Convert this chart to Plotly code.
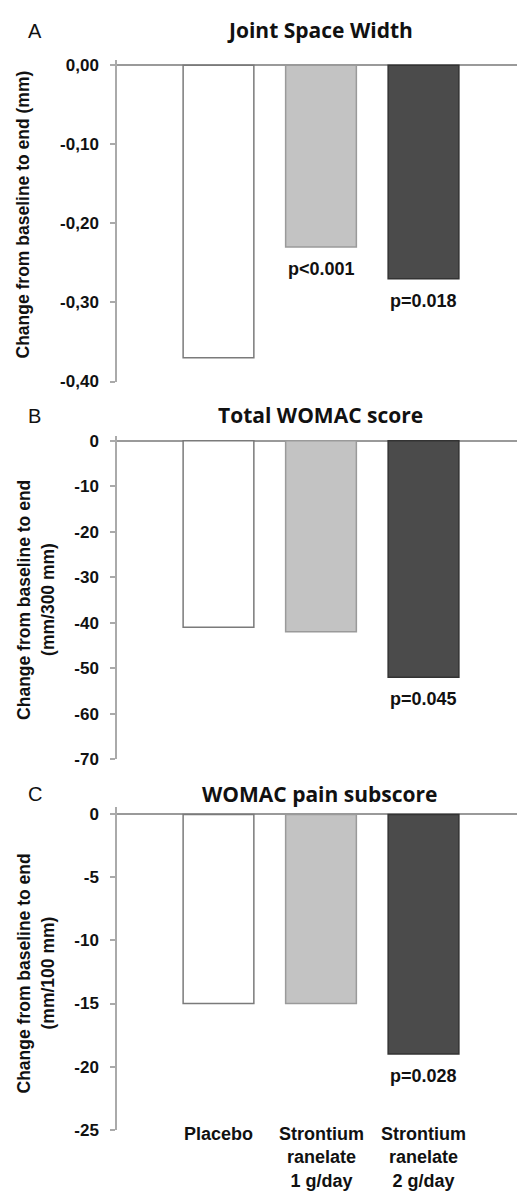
import plotly.graph_objects as go

W, H = 517, 1191

categories = ["Placebo", "Strontium ranelate 1 g/day", "Strontium ranelate 2 g/day"]
category_labels = ["Placebo", "Strontium<br>ranelate<br>1 g/day", "Strontium<br>ranelate<br>2 g/day"]

panel_letters = ["A", "B", "C"]
panel_titles = ["Joint Space Width", "Total WOMAC score", "WOMAC pain subscore"]

jsw_values = [-0.37, -0.23, -0.27]
jsw_pvalues = ["", "p<0.001", "p=0.018"]
jsw_tickvals = [0, -0.1, -0.2, -0.3, -0.4]
jsw_ticktext = ["0,00", "-0,10", "-0,20", "-0,30", "-0,40"]

womac_values = [-41, -42, -52]
womac_pvalues = ["", "", "p=0.045"]
womac_tickvals = [0, -10, -20, -30, -40, -50, -60, -70]
womac_ticktext = ["0", "-10", "-20", "-30", "-40", "-50", "-60", "-70"]

pain_values = [-15, -15, -19]
pain_pvalues = ["", "", "p=0.028"]
pain_tickvals = [0, -5, -10, -15, -20, -25]
pain_ticktext = ["0", "-5", "-10", "-15", "-20", "-25"]

ytitles = [["Change from baseline to end (mm)"],
           ["Change from baseline to end", "(mm/300 mm)"],
           ["Change from baseline to end", "(mm/100 mm)"]]

panels = [
    dict(values=jsw_values, p=jsw_pvalues, tv=jsw_tickvals, tt=jsw_ticktext,
         rng=[-0.40, 0.00625], top=57, bot=382, title_y=26, letter_y=27, ytitle_y=213),
    dict(values=womac_values, p=womac_pvalues, tv=womac_tickvals, tt=womac_ticktext,
         rng=[-70, 1.1], top=437, bot=764, title_y=416, letter_y=417, ytitle_y=603),
    dict(values=pain_values, p=pain_pvalues, tv=pain_tickvals, tt=pain_ticktext,
         rng=[-25, 0.55], top=813, bot=1139, title_y=799, letter_y=799, ytitle_y=981),
]

fill_colors = ["#ffffff", "#c3c3c3", "#4b4b4b"]
line_colors = ["#7a7a7a", "#9a9a9a", "#333333"]

def py(v):
    return 1 - v / H

def px(v):
    return v / W

fig = go.Figure()
annotations = []
bold_font = dict(family="Liberation Sans, Arial, sans-serif", size=18, color="#111111", weight="bold")
tick_font = dict(family="Liberation Sans, Arial, sans-serif", size=17, color="#111111", weight="bold")

for i, p in enumerate(panels):
    n = "" if i == 0 else str(i + 1)
    xa, ya = "x" + n, "y" + n
    fig.add_trace(go.Bar(
        x=categories, y=p["values"], xaxis=xa, yaxis=ya,
        width=0.69,
        marker=dict(color=fill_colors, line=dict(color=line_colors, width=1.5)),
        showlegend=False, hoverinfo="skip",
    ))
    fig.layout["xaxis" + n] = dict(
        domain=[px(117), 1.0], anchor=ya, type="category",
        categoryorder="array", categoryarray=categories,
        range=[-0.99, 2.912], showline=False, showticklabels=False,
        ticks="", showgrid=False, zeroline=False,
    )
    fig.layout["yaxis" + n] = dict(
        domain=[py(p["bot"]), py(p["top"])], anchor=xa, range=p["rng"],
        tickvals=p["tv"], ticktext=p["tt"], ticks="outside", ticklen=5,
        tickcolor="#aaaaaa", tickwidth=1.5, showline=True, linecolor="#aaaaaa",
        linewidth=1.5, showgrid=False, zeroline=True, zerolinecolor="#9a9a9a",
        zerolinewidth=1.5, tickfont=tick_font, ticklabelstandoff=8,
    )
    # p-values
    for c, v, t in zip(categories, p["values"], p["p"]):
        if t:
            annotations.append(dict(x=c, y=v, xref=xa, yref=ya, text=t, showarrow=False,
                                    yanchor="top", yshift=-10, font=bold_font))
    # panel title
    annotations.append(dict(x=px(320), y=py(p["title_y"]), xref="paper", yref="paper",
                            text=panel_titles[i], showarrow=False, yanchor="middle",
                            font=dict(family="Open Sans, sans-serif", size=21,
                                      color="#111111", weight="bold")))
    # panel letter
    annotations.append(dict(x=px(26), y=py(p["letter_y"]), xref="paper", yref="paper",
                            text=panel_letters[i], showarrow=False, yanchor="middle",
                            font=dict(family="Liberation Sans, Arial, sans-serif", size=20,
                                      color="#111111")))
    # y titles
    lines = ytitles[i]
    xs = [23] if len(lines) == 1 else [24, 48]
    for xx, txt in zip(xs, lines):
        annotations.append(dict(x=px(xx), y=py(p["ytitle_y"]), xref="paper", yref="paper",
                                text=txt, showarrow=False, textangle=-90,
                                xanchor="center", yanchor="middle",
                                font=dict(family="Liberation Sans, Arial, sans-serif", size=17.5,
                                          color="#111111", weight="bold")))

# category labels under bottom panel
for c, lab in zip(categories, category_labels):
    annotations.append(dict(x=c, y=py(1131), xref="x3", yref="paper", text=lab,
                            showarrow=False, yanchor="top", font=bold_font))

fig.update_layout(
    width=W, height=H, margin=dict(l=0, r=0, t=0, b=0),
    paper_bgcolor="white", plot_bgcolor="white",
    annotations=annotations, bargap=0.3,
)

fig.write_html("out.html", config={"displayModeBar": False},
               post_script="document.body.style.margin='0px';")
